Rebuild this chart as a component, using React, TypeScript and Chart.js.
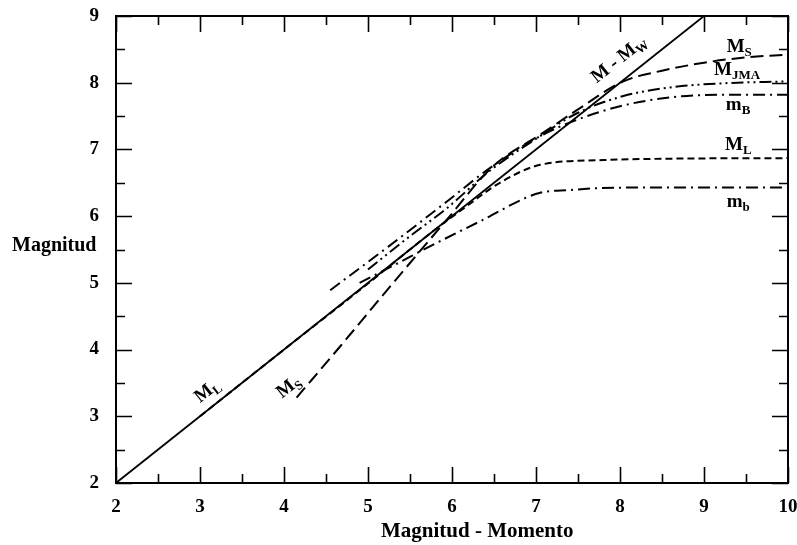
import React, { useEffect, useRef } from "react";
import { Chart, registerables } from "chart.js";
Chart.register(...registerables);

// ---- data (magnitude scales vs moment magnitude) ----
const mwX = [2, 9];
const mwY = [2, 9];
const msX = [4.15, 4.67, 5.3, 5.94, 6.49, 7.05, 7.5, 8.04, 8.5, 9, 9.5, 10];
const msY = [3.28, 4.05, 5.0, 5.95, 6.75, 7.22, 7.6, 8.02, 8.18, 8.3, 8.38, 8.42];
const jmaX = [5.0, 5.5, 5.94, 6.45, 7.05, 7.5, 8.04, 8.6, 9.2, 10];
const jmaY = [5.2, 5.7, 6.12, 6.68, 7.2, 7.55, 7.8, 7.93, 7.99, 8.02];
const mBX = [4.55, 5.25, 5.94, 6.45, 7.05, 7.5, 8.04, 8.6, 9.2, 10];
const mBY = [4.89, 5.55, 6.22, 6.72, 7.2, 7.45, 7.66, 7.78, 7.82, 7.82];
const mlX = [3.0, 4.0, 5.0, 5.8, 6.1, 6.57, 7.05, 7.8, 8.5, 10];
const mlY = [3.0, 4.0, 4.99, 5.8, 6.08, 6.5, 6.77, 6.84, 6.86, 6.87];
const mbX = [4.9, 5.38, 5.65, 6.33, 7.05, 7.4, 7.76, 8.5, 10];
const mbY = [5.0, 5.31, 5.49, 5.92, 6.35, 6.39, 6.42, 6.43, 6.43];

const xTicksMin = 2;
const xTicksMax = 10;
const yTicksMin = 2;
const yTicksMax = 9;

const xTitle = "Magnitud - Momento";
const yTitle = "Magnitud";

// curve labels: main text, subscript, anchor in data units, rotation (deg), centered?
const labelMain = ["M", "M", "m", "M", "m", "M - M", "M", "M"];
const labelSub = ["S", "JMA", "B", "L", "b", "W", "L", "S"];
const labelX = [9.27, 9.12, 9.26, 9.25, 9.27, 7.98, 3.08, 4.05];
const labelY = [8.46, 8.12, 7.59, 6.99, 6.14, 8.36, 3.39, 3.45];
const labelRot = [0, 0, 0, 0, 0, -38.5, -38.5, -38.5];
const labelCenter = [false, false, false, false, false, true, true, true];

const FONT = "'Liberation Serif', 'Times New Roman', serif";

const pts = (xs: number[], ys: number[]) => xs.map((x, i) => ({ x, y: ys[i] }));

function drawSubText(ctx: CanvasRenderingContext2D, main: string, sub: string, center: boolean) {
  ctx.font = `bold 19px ${FONT}`;
  const w1 = ctx.measureText(main).width;
  ctx.font = `bold 13px ${FONT}`;
  const w2 = ctx.measureText(sub).width;
  const total = w1 + w2;
  const x0 = center ? -total / 2 : 0;
  const yb = center ? 6 : 0;
  ctx.textAlign = "left";
  ctx.textBaseline = "alphabetic";
  ctx.font = `bold 19px ${FONT}`;
  ctx.fillText(main, x0, yb);
  ctx.font = `bold 13px ${FONT}`;
  ctx.fillText(sub, x0 + w1, yb + 4);
}

const decorPlugin = {
  id: "decor",
  afterDraw(chart: any) {
    const ctx = chart.ctx as CanvasRenderingContext2D;
    const { left, right, top, bottom } = chart.chartArea;
    const xs = chart.scales.x;
    const ys = chart.scales.y;
    ctx.save();
    ctx.strokeStyle = "#000";
    ctx.fillStyle = "#000";
    ctx.lineWidth = 2;
    ctx.strokeRect(left, top, right - left, bottom - top);
    ctx.lineWidth = 1.6;
    const major = 16;
    const minor = 9;
    ctx.beginPath();
    for (let v = xTicksMin; v <= xTicksMax + 1e-9; v += 0.5) {
      const L = Number.isInteger(v) ? major : minor;
      const px = Math.round(xs.getPixelForValue(v)) + 0.5;
      ctx.moveTo(px, bottom);
      ctx.lineTo(px, bottom - L);
      ctx.moveTo(px, top);
      ctx.lineTo(px, top + L);
    }
    for (let v = yTicksMin; v <= yTicksMax + 1e-9; v += 0.5) {
      const L = Number.isInteger(v) ? major : minor;
      const py = Math.round(ys.getPixelForValue(v)) + 0.5;
      ctx.moveTo(left, py);
      ctx.lineTo(left + L, py);
      ctx.moveTo(right, py);
      ctx.lineTo(right - L, py);
    }
    ctx.stroke();

    // axis titles
    ctx.font = `bold 21px ${FONT}`;
    ctx.textAlign = "center";
    ctx.textBaseline = "middle";
    ctx.fillText(xTitle, xs.getPixelForValue(6.3), bottom + 49);
    ctx.font = `bold 20px ${FONT}`;
    ctx.textAlign = "left";
    ctx.fillText(yTitle, 12, ys.getPixelForValue(5.55));

    // curve labels
    for (let i = 0; i < labelMain.length; i++) {
      const px = xs.getPixelForValue(labelX[i]);
      const py = ys.getPixelForValue(labelY[i]);
      ctx.save();
      ctx.translate(px, py);
      ctx.rotate((labelRot[i] * Math.PI) / 180);
      drawSubText(ctx, labelMain[i], labelSub[i], labelCenter[i]);
      ctx.restore();
    }
    ctx.restore();
  },
};

const zeroPad = (s: any) => {
  s.paddingLeft = 0;
  s.paddingRight = 0;
  s.paddingTop = 0;
  s.paddingBottom = 0;
};

export default function App() {
  const ref = useRef<HTMLCanvasElement | null>(null);
  useEffect(() => {
    if (!ref.current) return;
    const base = {
      borderColor: "#000",
      backgroundColor: "#000",
      pointRadius: 0,
      fill: false,
      borderWidth: 2,
      cubicInterpolationMode: "monotone" as const,
      borderCapStyle: "butt" as const,
    };
    const chart = new Chart(ref.current, {
      type: "line",
      data: {
        datasets: [
          { ...base, label: "M - Mw", data: pts(mwX, mwY), borderWidth: 1.8 },
          { ...base, label: "Ms", data: pts(msX, msY), borderDash: [13, 6] },
          { ...base, label: "MJMA", data: pts(jmaX, jmaY), borderDash: [12, 4, 2, 4, 2, 4] },
          { ...base, label: "mB", data: pts(mBX, mBY), borderDash: [12, 5, 2, 5] },
          { ...base, label: "ML", data: pts(mlX, mlY), borderDash: [7, 4] },
          { ...base, label: "mb", data: pts(mbX, mbY), borderDash: [12, 5, 2, 5] },
        ],
      },
      options: {
        animation: false,
        responsive: true,
        maintainAspectRatio: false,
        layout: { padding: { left: 0, top: 16, right: 9, bottom: 0 } },
        plugins: { legend: { display: false }, tooltip: { enabled: false } },
        scales: {
          x: {
            type: "linear",
            min: xTicksMin,
            max: xTicksMax,
            grid: { display: false },
            border: { display: false },
            ticks: {
              stepSize: 1,
              padding: 5,
              color: "#000",
              maxRotation: 0,
              font: { family: FONT, size: 19, weight: "bold" },
            },
            afterFit: (s: any) => {
              s.height = 62;
              zeroPad(s);
            },
          },
          y: {
            type: "linear",
            min: yTicksMin,
            max: yTicksMax,
            grid: { display: false },
            border: { display: false },
            ticks: {
              stepSize: 1,
              padding: 9,
              color: "#000",
              font: { family: FONT, size: 19, weight: "bold" },
            },
            afterFit: (s: any) => {
              s.width = 116;
              zeroPad(s);
            },
          },
        },
      },
      plugins: [decorPlugin],
    } as any);
    return () => chart.destroy();
  }, []);
  return (
    <div style={{ position: "fixed", left: 0, top: 0, width: 797, height: 545, background: "#fff" }}>
      <canvas ref={ref} />
    </div>
  );
}
